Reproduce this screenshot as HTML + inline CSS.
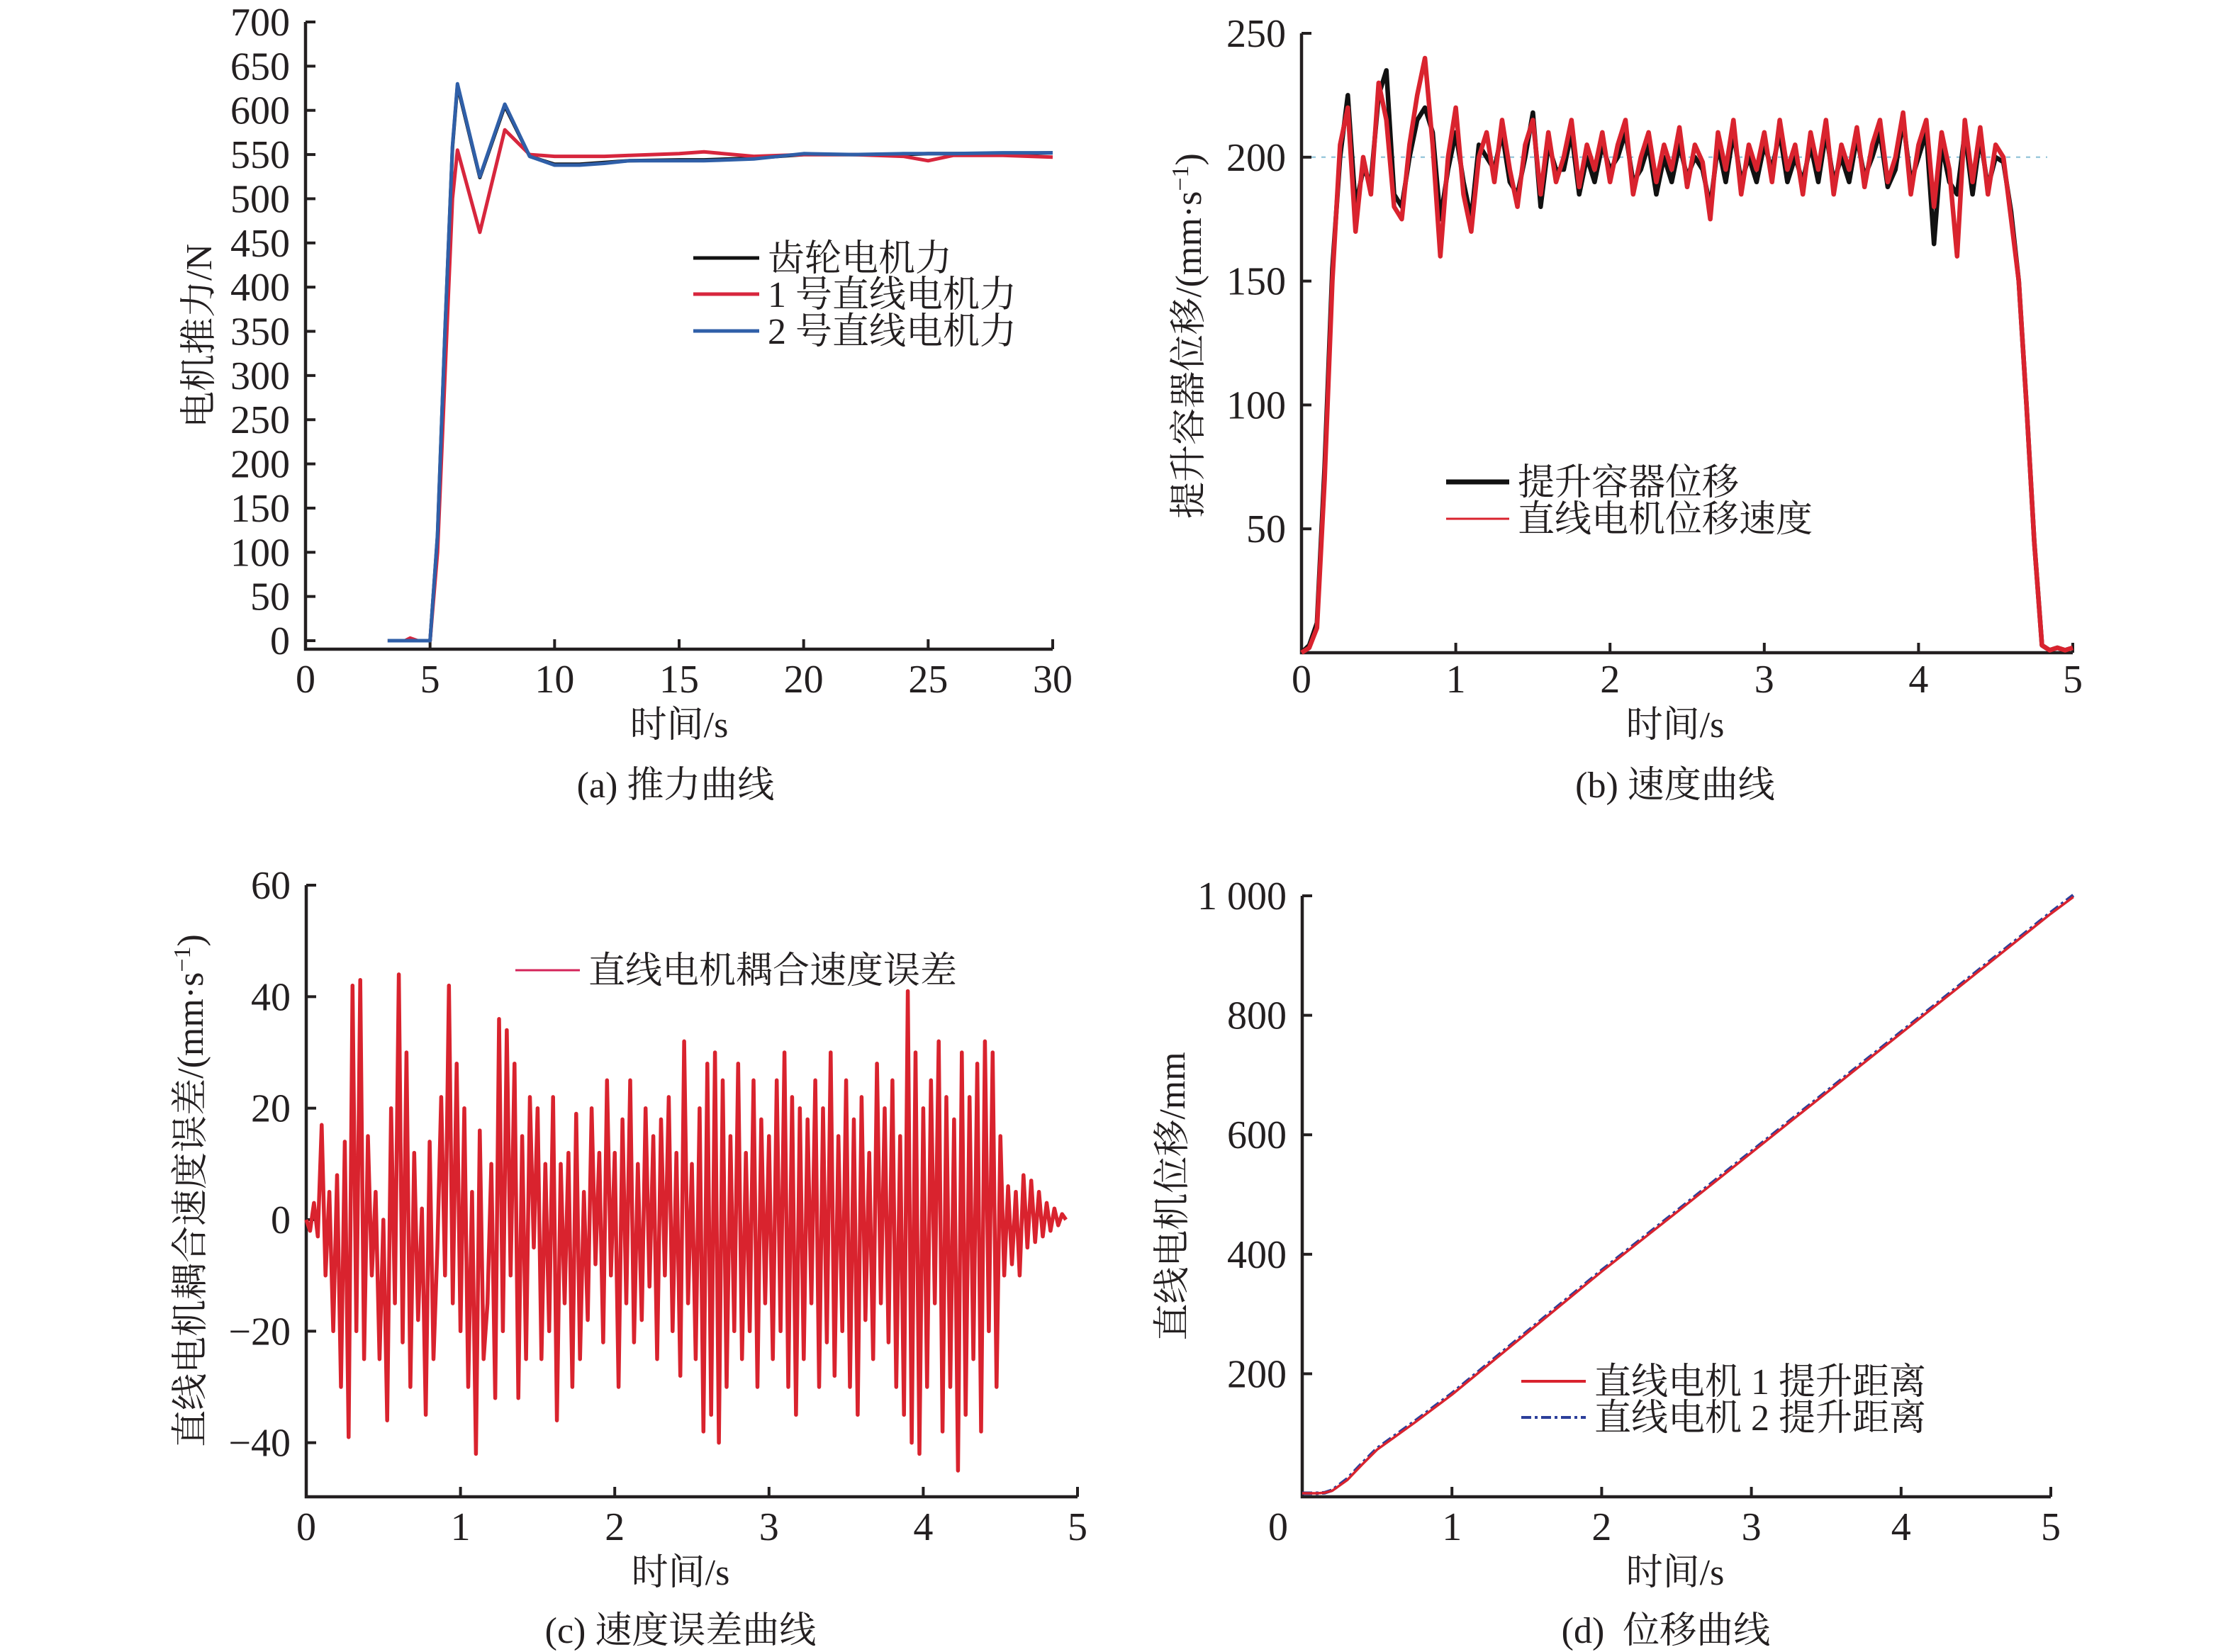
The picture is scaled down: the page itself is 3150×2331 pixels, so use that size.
<!DOCTYPE html>
<html><head><meta charset="utf-8">
<style>
html,body{margin:0;padding:0;background:#fff;}
svg{display:block;}
text{font-family:"Liberation Serif","Noto Serif CJK SC",serif;fill:#231f20;}
.tk{font-size:56px;}
.cj{font-size:52px;}
</style></head>
<body>
<svg id="fig" xmlns="http://www.w3.org/2000/svg" width="3150" height="2331" viewBox="0 0 3150 2331">
<g>
<text class="cj" x="958" y="1040" text-anchor="middle">时间/s</text>
<text class="cj" x="953" y="1125" text-anchor="middle">(a) 推力曲线</text>
<text class="cj" transform="translate(298,474) rotate(-90)" text-anchor="middle">电机推力/N</text>
<text class="cj" x="2363" y="1040" text-anchor="middle">时间/s</text>
<text class="cj" x="2363" y="1125" text-anchor="middle">(b) 速度曲线</text>
<text class="cj" transform="translate(1694,474) rotate(-90)" text-anchor="middle">提升容器位移/(mm·s<tspan dy="-18" font-size="34">−1</tspan><tspan dy="18">)</tspan></text>
<text class="cj" x="960" y="2236" text-anchor="middle">时间/s</text>
<text class="cj" x="960" y="2318" text-anchor="middle">(c) 速度误差曲线</text>
<text class="cj" transform="translate(286,1680) rotate(-90)" text-anchor="middle">直线电机耦合速度误差/(mm·s<tspan dy="-18" font-size="34">−1</tspan><tspan dy="18">)</tspan></text>
<text class="cj" x="2363" y="2236" text-anchor="middle">时间/s</text>
<text class="cj" x="2350" y="2318" text-anchor="middle">(d)&#160; 位移曲线</text>
<text class="cj" transform="translate(1671,1688) rotate(-90)" text-anchor="middle">直线电机位移/mm</text>
</g>
</svg>
<script>
// ---- chart a data ----
const aTime=[3.3,4,4.2,4.5,5,5.3,5.6,5.9,6.1,7,8,9,10,11,12,13,15,16,18,20,22,24,25,26,28,30];
const aRed=[0,0,3,0,0,100,300,500,555,462,578,550,548,548,548,549,551,553,548,550,550,548,543,549,549,547];
const aBlue=[0,0,0,0,0,120,350,560,630,525,607,548,538,538,540,543,543,543,545,551,550,551,551,551,552,552];
const aBlack=[0,0,0,0,0,118,348,558,628,524,605,548,539,539,541,543,544,544,546,550,550,550,551,551,551,552];
const aXTicks=[0,5,10,15,20,25,30];
const aYTicks=[0,50,100,150,200,250,300,350,400,450,500,550,600,650,700];
// ---- chart b data (step 0.05 s) ----
const bRed=[0,2,10,70,150,205,220,170,200,185,230,215,180,175,205,225,240,205,160,200,220,185,170,200,210,190,215,195,180,205,215,185,210,190,200,215,188,205,195,210,190,205,215,185,200,210,190,205,195,212,188,205,198,175,210,195,215,185,205,195,210,190,215,195,205,185,210,195,215,185,205,195,212,188,205,215,190,200,218,185,205,215,180,210,195,160,215,190,212,185,205,200,175,150,100,45,3,1,2,1,2];
const bBlack=[0,3,12,75,155,200,225,180,195,190,225,235,185,180,200,215,220,210,175,195,210,190,175,205,200,195,210,190,185,200,218,180,205,195,195,210,185,200,190,205,195,200,210,190,195,205,185,200,190,205,192,200,195,180,205,190,210,190,200,190,205,195,210,190,200,190,205,190,210,190,200,190,208,192,200,210,188,195,215,190,200,210,165,205,190,185,210,185,208,188,200,198,178,150,100,45,3,1,2,1,2];
const bXTicks=[0,1,2,3,4,5];
const bYTicks=[50,100,150,200,250];
// ---- chart c data (step 0.025 s) ----
const cErr=[0,-2,3,-3,17,-10,5,-20,8,-30,14,-39,42,-20,43,-25,15,-10,5,-25,0,-36,20,-15,44,-22,30,-30,12,-18,2,-35,14,-25,-5,22,-10,42,-15,28,-20,20,-30,5,-42,16,-25,-15,10,-32,36,-20,34,-10,28,-32,15,-25,22,-5,20,-25,10,-20,22,-36,10,-15,12,-30,19,-25,5,-18,20,-8,12,-22,25,-10,12,-30,18,-15,25,-22,10,-18,20,-12,15,-25,18,-10,22,-20,12,-28,32,-15,10,-25,20,-38,28,-35,30,-40,25,-30,15,-20,28,-25,12,-20,25,-30,18,-15,15,-25,25,-20,30,-30,22,-35,20,-25,18,-15,25,-30,20,-22,30,-28,15,-20,25,-30,18,-35,22,-18,12,-25,28,-15,20,-22,25,-30,15,-35,41,-40,30,-42,20,-30,25,-15,32,-38,22,-30,18,-45,30,-35,22,-25,28,-38,32,-20,30,-30,15,-10,6,-8,5,-10,8,-5,7,-4,5,-3,3,-2,2,-1,1,0];
const cXTicks=[0,1,2,3,4,5];
const cYTicks=[-40,-20,0,20,40,60];
// ---- chart d data ----
const dTime=[0,0.1,0.15,0.2,0.3,0.4,0.5,0.75,1,1.5,2,2.5,3,3.5,4,4.5,5,5.15];
const dMotor1=[0,0,1,4,22,48,73,118,165,268,371,470,570,670,770,870,970,998];
const dMotor2=[0,0,1,5,24,50,75,120,167,270,373,472,572,672,772,872,972,1001];
const dXTicks=[0,1,2,3,4,5];
const dYTicks=[200,400,600,800,1000];

const NS='http://www.w3.org/2000/svg';
const svg=document.getElementById('fig');
function mk(tag,attrs,parent){const e=document.createElementNS(NS,tag);for(const k in attrs)e.setAttribute(k,attrs[k]);(parent||svg).appendChild(e);return e;}
function lin(d0,d1,r0,r1){return v=>r0+(v-d0)/(d1-d0)*(r1-r0);}

function axes(g,xs,ys,x0,x1,yBot,yTop,xt,yt,ytFmt){
  const ax=mk('path',{d:`M${x0},${yTop} V${yBot} H${x1}`,fill:'none',stroke:'#231f20','stroke-width':4.5},g);
  
  
  xt.forEach(v=>{
    const X=xs(v);
    if(v!==xt[0]){const t=mk('line',{x1:X,x2:X,y1:yBot,y2:yBot-14,stroke:'#231f20','stroke-width':4},g);
    
    }
  });
  yt.forEach(v=>{
    const Y=ys(v);
    const t=mk('line',{x1:x0,x2:x0+14,y1:Y,y2:Y,stroke:'#231f20','stroke-width':4},g);
    
    
    const l=mk('text',{x:x0-22,y:Y+19,'text-anchor':'end',class:'tk'},g);
    l.textContent=ytFmt?ytFmt(v):String(v).replace('-','−');
    
    
  });
}
function xLabels(g,xs,xt,y,firstX){
  xt.forEach((v,i)=>{
    const l=mk('text',{x:(i===0&&firstX!==undefined)?firstX:xs(v),y:y,'text-anchor':'middle',class:'tk'},g);
    l.textContent=String(v);
    
    
  });
}
function line(g,xsArr,ysArr,xs,ys,color,w,name,extra){
  const d=xsArr.map((x,i)=>(i?'L':'M')+xs(x).toFixed(1)+','+ys(ysArr[i]).toFixed(1)).join(' ');
  const p=mk('path',Object.assign({d:d,fill:'none',stroke:color,'stroke-width':w,'stroke-linejoin':'round'},extra||{}),g);
  
  
  return p;
}
function legend(g,x1,x2,y,color,label,name,extra){
  const l=mk('line',Object.assign({x1:x1,x2:x2,y1:y,y2:y,stroke:color,'stroke-width':5},extra||{}),g);
  
  
  const t=mk('text',{x:x2+12,y:y+18,class:'cj'},g);
  t.textContent=label;
  
  
}

// chart a
const ga=mk('g',{});


const axA=lin(0,30,431,1485), ayA=lin(0,700,904,31);
axes(ga,axA,ayA,431,1485,916,31,aXTicks,aYTicks);
xLabels(ga,axA,aXTicks,977);
line(ga,aTime,aBlack,axA,ayA,'#111',5,'series-gear-motor');
line(ga,aTime,aRed,axA,ayA,'#d7263d',5,'series-linear-motor-1');
line(ga,aTime,aBlue,axA,ayA,'#2f5fa8',5,'series-linear-motor-2');
legend(ga,978,1071,364,'#111','齿轮电机力','legend-gear-motor');
legend(ga,978,1071,415,'#d7263d','1 号直线电机力','legend-linear-motor-1');
legend(ga,978,1071,467,'#2f5fa8','2 号直线电机力','legend-linear-motor-2');

// chart b
const gb=mk('g',{});


const axB=lin(0,5,1836,2924), ayB=lin(0,250,921,47);
const ref=mk('line',{x1:1836,x2:2888,y1:ayB(200),y2:ayB(200),stroke:'#9cc9dc','stroke-width':2.5,'stroke-dasharray':'6 8'},gb);


axes(gb,axB,ayB,1836,2924,921,47,bXTicks,bYTicks);
xLabels(gb,axB,bXTicks,977);
const bT=bRed.map((_,i)=>i*0.05);
line(gb,bT,bBlack,axB,ayB,'#111',6.5,'series-container-displacement');
line(gb,bT,bRed,axB,ayB,'#d9232e',6.5,'series-linear-motor-speed');
legend(gb,2040,2129,680,'#111','提升容器位移','legend-container-displacement',{'stroke-width':7});
legend(gb,2040,2129,732,'#d9232e','直线电机位移速度','legend-linear-motor-speed',{'stroke-width':3});

// chart c
const gc=mk('g',{});


const axC=lin(0,5,432,1520), ayC=lin(0,60,1721,1249);
axes(gc,axC,ayC,432,1520,2112,1249,cXTicks,cYTicks);
xLabels(gc,axC,cXTicks,2173);
const cT=cErr.map((_,i)=>i*0.025);
line(gc,cT,cErr,axC,ayC,'#d9232e',5.5,'series-coupling-speed-error');
legend(gc,727,818,1369,'#d4245a','直线电机耦合速度误差','legend-coupling-speed-error',{'stroke-width':3});

// chart d
const gd=mk('g',{});


const axD=lin(0,5,1837,2893), ayD=lin(0,1000,2107,1264);
axes(gd,axD,ayD,1837,2893,2112,1264,dXTicks,dYTicks,v=>v===1000?'1 000':String(v));
xLabels(gd,axD,dXTicks,2173,1803);
line(gd,dTime,dMotor2,axD,ayD,'#2b3f9a',5,'series-linear-motor-2-distance',{'stroke-dasharray':'14 5 4 5'});
line(gd,dTime,dMotor1,axD,ayD,'#d9232e',3.5,'series-linear-motor-1-distance');
legend(gd,2146,2237,1949,'#d9232e','直线电机 1 提升距离','legend-linear-motor-1-distance',{'stroke-width':4});
legend(gd,2146,2237,2000,'#2b3f9a','直线电机 2 提升距离','legend-linear-motor-2-distance',{'stroke-width':4,'stroke-dasharray':'14 5 4 5'});
</script>
</body></html>
